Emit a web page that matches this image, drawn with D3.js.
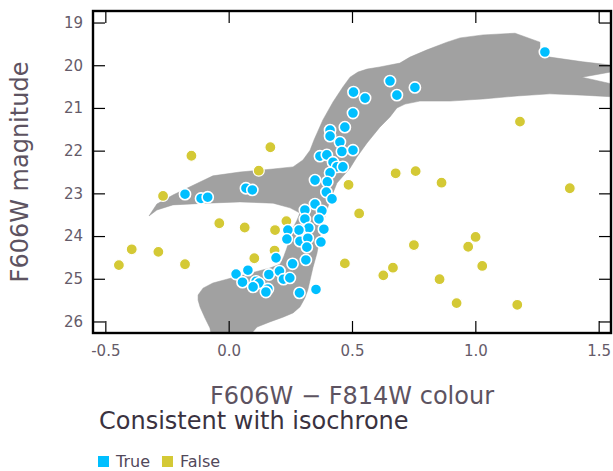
<!DOCTYPE html>
<html>
<head>
<meta charset="utf-8">
<script src="https://cdn.jsdelivr.net/npm/d3@7"></script>
<style>
  body { margin: 0; background: #fff; }
  text { font-family: "DejaVu Sans", sans-serif; }
</style>
</head>
<body>
<div id="svg-div"></div>
<script>
const xTicks = [-0.5, 0.0, 0.5, 1.0, 1.5];
const yTicks = [19, 20, 21, 22, 23, 24, 25, 26];
const legendLabels = ['True', 'False'];

// stars consistent with the isochrone (colour, magnitude)
const trueColour = [1.282, 0.654, 0.682, 0.755, 0.506, 0.553, 0.504, 0.471, 0.411, 0.411,
                    0.451, 0.504, 0.459, 0.370, 0.398, 0.423, 0.439, 0.463, 0.411, 0.350,
                    0.400, 0.396, 0.419, 0.350, 0.309, 0.378, 0.366, 0.309, 0.325, 0.386,
                    0.285, 0.240, 0.236, 0.289, 0.321, 0.374, 0.317, 0.313, 0.192, 0.259,
                    0.030, 0.078, 0.056, 0.111, 0.123, 0.099, 0.159, 0.151, 0.163, 0.206,
                    0.222, 0.248, 0.287, 0.354, -0.177, -0.112, -0.085, 0.070, 0.096];
const trueMag = [19.69, 20.37, 20.70, 20.52, 20.63, 20.77, 21.12, 21.45, 21.52, 21.66,
                 21.80, 21.99, 22.02, 22.13, 22.10, 22.27, 22.38, 22.38, 22.52, 22.69,
                 22.73, 22.97, 23.13, 23.25, 23.39, 23.41, 23.60, 23.60, 23.81, 23.84,
                 23.86, 23.86, 24.07, 24.12, 24.05, 24.14, 24.26, 24.56, 24.51, 24.65,
                 24.89, 24.80, 25.08, 25.06, 25.10, 25.19, 25.24, 25.31, 24.90, 24.82,
                 25.01, 24.98, 25.33, 25.25, 23.02, 23.12, 23.09, 22.88, 22.92];

// stars not consistent with the isochrone
const falseColour = [-0.151, 0.169, 0.122, 1.181, 0.677, 0.758, 0.486, 0.863, 1.383, 0.529,
                     1.001, 0.751, 0.971, 0.471, 1.028, 0.666, 0.627, 0.855, 0.924, 1.170,
                     -0.266, -0.038, 0.065, 0.188, 0.234, -0.393, -0.285, -0.445, -0.177, 0.104,
                     0.186];
const falseMag = [22.12, 21.92, 22.47, 21.32, 22.53, 22.48, 22.80, 22.75, 22.88, 23.47,
                  24.02, 24.21, 24.25, 24.64, 24.70, 24.74, 24.92, 25.01, 25.57, 25.61,
                  23.06, 23.70, 23.80, 23.86, 23.65, 24.31, 24.37, 24.68, 24.66, 24.52,
                  24.34];

// outline of the isochrone band
const bandColour = [-0.323, -0.291, -0.226, -0.169, -0.064, 0.046, 0.180, 0.261, 0.301, 0.330,
                    0.346, 0.382, 0.423, 0.463, 0.492, 0.524, 0.561, 0.613, 0.694, 0.735,
                    0.804, 0.885, 0.938, 1.031, 1.161, 1.262, 1.262, 1.302, 1.436, 1.586,
                    1.586, 1.432, 1.586, 1.586, 1.436, 1.302, 1.169, 1.031, 0.897, 0.775,
                    0.715, 0.682, 0.654, 0.613, 0.561, 0.520, 0.492, 0.439, 0.411, 0.390,
                    0.370, 0.358, 0.342, 0.330, 0.321, 0.309, 0.289, 0.261, 0.220, 0.167,
                    0.115, 0.094, 0.086, -0.068, -0.072, -0.076, -0.096, -0.116, -0.124, -0.124,
                    -0.104, -0.064, -0.007, 0.026, 0.107, 0.167, 0.208, 0.224, 0.236, 0.248,
                    0.261, 0.277, 0.289, 0.249, 0.180, 0.046, -0.088, -0.226, -0.291];
const bandMag = [23.53, 23.25, 23.04, 22.88, 22.59, 22.50, 22.43, 22.38, 22.22, 21.99,
                 21.75, 21.28, 20.86, 20.51, 20.28, 20.16, 20.09, 20.04, 19.95, 19.81,
                 19.64, 19.46, 19.36, 19.29, 19.25, 19.46, 19.64, 19.81, 19.92, 20.02,
                 20.12, 20.28, 20.48, 20.75, 20.70, 20.67, 20.72, 20.79, 20.84, 20.84,
                 20.91, 21.00, 21.21, 21.45, 21.82, 22.15, 22.41, 22.76, 23.16, 23.55,
                 24.02, 24.40, 24.73, 25.03, 25.26, 25.45, 25.66, 25.80, 25.90, 26.01,
                 26.13, 26.27, 26.55, 26.55, 26.27, 26.15, 25.92, 25.66, 25.50, 25.38,
                 25.22, 25.10, 25.01, 24.96, 24.84, 24.75, 24.66, 24.47, 24.28, 24.05,
                 23.81, 23.63, 23.46, 23.34, 23.23, 23.20, 23.23, 23.27, 23.39];

const width = 613;
const height = 471;
const plotLeft = 93;
const plotRight = 611;
const plotTop = 11;
const plotBottom = 333;
const tickLen = 12;

const blue = '#00bfff';
const yellow = '#d4c935';
const labelColour = '#655b69';

const xScale = d3.scaleLinear()
                 .domain([-0.55, 1.55])
                 .range([plotLeft, plotRight]);

const yScale = d3.scaleLinear()
                 .domain([18.73, 26.27])
                 .range([plotTop, plotBottom]);

const svg = d3.select('#svg-div')
              .append('svg')
                .attr('width', width)
                .attr('height', height);

svg.append('defs')
   .append('clipPath')
     .attr('id', 'plot-clip')
   .append('rect')
     .attr('x', plotLeft)
     .attr('y', plotTop)
     .attr('width', plotRight - plotLeft)
     .attr('height', plotBottom - plotTop);

const plot = svg.append('g').attr('clip-path', 'url(#plot-clip)');

// isochrone band
const band = d3.line()
               .x(i => xScale(bandColour[i]))
               .y(i => yScale(bandMag[i]));

plot.append('path')
    .attr('d', band(d3.range(bandColour.length)) + 'Z')
    .attr('fill', '#a1a1a1')
    .attr('stroke', '#9a9a9a')
    .attr('stroke-width', 0.5);

// scatter points, inconsistent first so the blue ones sit on top
plot.selectAll('circle.false')
    .data(d3.range(falseColour.length))
    .enter()
      .append('circle')
        .attr('class', 'false')
        .attr('cx', i => xScale(falseColour[i]))
        .attr('cy', i => yScale(falseMag[i]))
        .attr('r', 5.5)
        .attr('fill', yellow)
        .attr('stroke', '#fff')
        .attr('stroke-width', 1.2);

plot.selectAll('circle.true')
    .data(d3.range(trueColour.length))
    .enter()
      .append('circle')
        .attr('class', 'true')
        .attr('cx', i => xScale(trueColour[i]))
        .attr('cy', i => yScale(trueMag[i]))
        .attr('r', 5.6)
        .attr('fill', blue)
        .attr('stroke', '#fff')
        .attr('stroke-width', 1.6);

// axes, ticks pointing inwards on all four sides
const fmtX = d => d.toFixed(1);

const xAxisBottom = svg.append('g')
   .attr('transform', `translate(0, ${plotBottom})`)
   .call(d3.axisBottom(xScale).tickValues(xTicks).tickSize(-tickLen).tickPadding(12).tickFormat(fmtX));

const xAxisTop = svg.append('g')
   .attr('transform', `translate(0, ${plotTop})`)
   .call(d3.axisTop(xScale).tickValues(xTicks).tickSize(-tickLen).tickFormat(''));

const yAxisLeft = svg.append('g')
   .attr('transform', `translate(${plotLeft}, 0)`)
   .call(d3.axisLeft(yScale).tickValues(yTicks).tickSize(-tickLen).tickPadding(10).tickFormat(d3.format('d')));

const yAxisRight = svg.append('g')
   .attr('transform', `translate(${plotRight}, 0)`)
   .call(d3.axisRight(yScale).tickValues(yTicks).tickSize(-tickLen).tickFormat(''));

[xAxisBottom, xAxisTop, yAxisLeft, yAxisRight].forEach(ax => {
    ax.select('.domain').remove();
    ax.selectAll('line').attr('stroke', '#000').attr('stroke-width', 1.2);
    ax.selectAll('text')
      .attr('fill', labelColour)
      .attr('font-size', 15)
      .attr('font-family', '"DejaVu Sans", sans-serif');
});

// frame
svg.append('rect')
   .attr('x', plotLeft)
   .attr('y', plotTop)
   .attr('width', plotRight - plotLeft)
   .attr('height', plotBottom - plotTop)
   .attr('fill', 'none')
   .attr('stroke', '#000')
   .attr('stroke-width', 2.4);

// axis titles
svg.append('text')
   .attr('x', (plotLeft + plotRight) / 2)
   .attr('y', 404)
   .attr('text-anchor', 'middle')
   .attr('font-size', 24)
   .attr('fill', '#5d5361')
   .text('F606W \u2212 F814W colour');

svg.append('text')
   .attr('transform', `translate(28, ${(plotTop + plotBottom) / 2}) rotate(-90)`)
   .attr('text-anchor', 'middle')
   .attr('font-size', 24)
   .attr('fill', '#5d5361')
   .text('F606W magnitude');

// legend
svg.append('text')
   .attr('x', 99)
   .attr('y', 429)
   .attr('font-size', 24)
   .attr('fill', '#3a3240')
   .text('Consistent with isochrone');

const legend = svg.append('g').attr('transform', 'translate(98, 456)');
const legendColours = [blue, yellow];
let lx = 0;
legendLabels.forEach((label, i) => {
    legend.append('rect')
          .attr('x', lx)
          .attr('y', 0)
          .attr('width', 11)
          .attr('height', 11)
          .attr('fill', legendColours[i]);
    const t = legend.append('text')
          .attr('x', lx + 18)
          .attr('y', 11)
          .attr('font-size', 16)
          .attr('fill', '#52485a')
          .text(label);
    lx += 18 + t.node().getComputedTextLength() + 12;
});
</script>
</body>
</html>
